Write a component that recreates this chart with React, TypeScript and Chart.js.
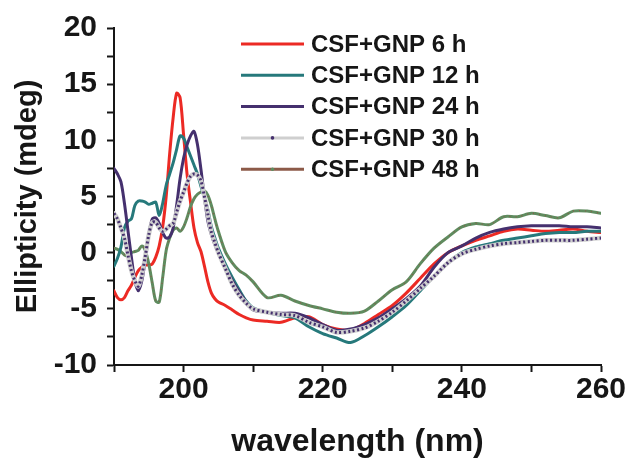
import React, { useEffect, useRef } from 'react';
import { Chart, registerables } from 'chart.js';
Chart.register(...registerables);

const wavelengths = [
  190, 190.5, 191, 191.5, 192, 192.5, 193, 193.5, 194, 194.5, 195, 195.5, 196, 196.5, 197, 197.5,
  198, 198.5, 199, 199.5, 200, 200.5, 201, 201.5, 202, 202.5, 203, 203.5, 204, 204.5, 205,
  206, 207, 208, 209, 210, 212, 214, 216, 218, 220, 222, 224, 226, 228, 230, 232, 234, 236,
  238, 240, 242, 244, 246, 248, 250, 252, 254, 256, 258, 260,
];

const csfGnp6h = [
  -3.4, -4.0, -4.2, -4.0, -3.4, -2.9, -2.2, -1.6, -1.3, -1.1, -1.1, -1.0, -0.4, 0.6, 2.3, 5.0,
  8.8, 12.0, 14.2, 13.8, 10.5, 7.0, 4.5, 2.2, 0.9, 0.1, -1.2, -2.6, -3.6, -4.1, -4.4,
  -4.7, -5.1, -5.5, -5.8, -6.0, -6.1, -6.2, -5.8, -5.7, -6.4, -6.8, -6.9, -6.3, -5.5, -4.7, -3.6, -2.3, -1.0,
  0.0, 0.6, 1.1, 1.5, 1.9, 2.1, 2.0, 1.9, 2.0, 2.1, 1.9, 1.8,
];

const csfGnp12h = [
  -1.2, -0.5, 0.5, 2.2, 2.8, 3.0, 4.2, 4.6, 4.6, 4.5, 4.3, 4.4, 4.5, 3.3, 4.4, 6.0,
  7.0, 8.0, 9.2, 10.4, 10.2, 9.4, 8.6, 7.8, 7.0, 5.9, 4.9, 3.8, 2.3, 1.3, 0.4,
  -1.0, -2.2, -3.3, -4.3, -4.9, -5.3, -5.6, -5.8, -6.6, -7.2, -7.6, -8.0, -7.4, -6.6, -5.7, -4.7, -3.4, -2.1,
  -0.9, 0.0, 0.5, 0.8, 1.1, 1.3, 1.5, 1.7, 1.8, 1.8, 1.9, 1.9,
];

const csfGnp24h = [
  7.5, 7.0, 6.3, 4.4, 2.0, -0.4, -2.5, -3.4, -2.5, -0.6, 1.6, 3.0, 3.1, 2.6, 1.8, 1.3,
  1.4, 2.2, 4.2, 6.6, 8.4, 9.6, 10.4, 10.8, 9.6, 7.4, 4.9, 2.8, 1.6, 0.7, 0.0,
  -1.3, -2.5, -3.5, -4.4, -5.1, -5.3, -5.4, -5.4, -5.8, -6.4, -6.9, -6.8, -6.4, -5.8, -5.0, -4.1, -3.0, -1.3,
  0.0, 0.6, 1.3, 1.8, 2.1, 2.3, 2.4, 2.4, 2.4, 2.3, 2.3, 2.2,
];

const csfGnp30h = [
  3.5, 3.0, 2.2, 1.3, -0.2, -1.6, -2.5, -3.0, -2.0, -0.3, 1.6, 2.7, 2.7, 2.2, 1.9, 2.1,
  2.4, 2.6, 3.6, 4.6, 5.4, 6.2, 6.8, 7.0, 6.9, 6.4, 5.0, 3.4, 1.8, 0.9, 0.0,
  -1.4, -2.8, -3.8, -4.5, -5.0, -5.3, -5.5, -5.6, -6.2, -6.6, -7.1, -7.0, -6.7, -6.1, -5.3, -4.3, -3.2, -2.1,
  -0.9, -0.1, 0.3, 0.6, 0.8, 0.9, 1.0, 1.1, 1.1, 1.1, 1.2, 1.3,
];

const csfGnp48h = [
  0.4, 0.3, 0.1, -0.2, -0.3, 0.0, 0.1, 0.2, 0.6, 0.2, -1.0, -2.7, -4.3, -4.4, -2.2, 0.2,
  1.3, 2.0, 2.2, 1.9, 2.3, 3.1, 4.1, 4.8, 5.2, 5.4, 5.5, 5.1, 4.2, 3.0, 1.9,
  0.1, -0.9, -1.6, -2.0, -2.6, -4.0, -3.8, -4.3, -4.7, -5.0, -5.3, -5.4, -5.2, -4.3, -3.3, -2.6, -1.0, 0.4,
  1.4, 2.3, 2.6, 2.5, 3.2, 3.2, 3.5, 3.3, 3.1, 3.7, 3.7, 3.5,
];

const seriesLabels = ['CSF+GNP 6 h', 'CSF+GNP 12 h', 'CSF+GNP 24 h', 'CSF+GNP 30 h', 'CSF+GNP 48 h'];
const xTickLabels = [200, 220, 240, 260];
const yTickLabels = [20, 15, 10, 5, 0, -5, -10];

const RED = '#ec2a24';
const TEAL = '#26797b';
const PURPLE = '#45306e';
const GRAY = '#cfcfcf';
const GREEN = '#5f8c5f';
const BROWN = '#8c5a48';
const INK = '#161616';
const FONT = '"Liberation Sans", Arial, sans-serif';

const toPoints = (ys: number[]) => wavelengths.map((x, i) => ({ x, y: ys[i] }));

const legendPlugin = {
  id: 'customLegend',
  afterDraw(chart: any) {
    const { ctx, chartArea } = chart;
    const x0 = chartArea.left + 127;
    const y0 = chartArea.top + 16;
    const gap = 31.3;
    const lineLen = 63;
    const styles = [
      { line: RED, dot: null },
      { line: TEAL, dot: null },
      { line: PURPLE, dot: null },
      { line: GRAY, dot: PURPLE },
      { line: BROWN, dot: GREEN },
    ];
    ctx.save();
    styles.forEach((s, i) => {
      const y = y0 + i * gap;
      ctx.beginPath();
      ctx.strokeStyle = s.line;
      ctx.lineWidth = 3;
      ctx.moveTo(x0, y);
      ctx.lineTo(x0 + lineLen, y);
      ctx.stroke();
      if (s.dot) {
        ctx.beginPath();
        ctx.fillStyle = s.dot;
        ctx.arc(x0 + lineLen / 2, y, 1.8, 0, Math.PI * 2);
        ctx.fill();
      }
      ctx.fillStyle = INK;
      ctx.font = `bold 24px ${FONT}`;
      ctx.textBaseline = 'middle';
      ctx.textAlign = 'left';
      ctx.fillText(seriesLabels[i], x0 + 70, y + 1);
    });
    ctx.restore();
  },
};

export default function App() {
  const ref = useRef<HTMLCanvasElement>(null);
  useEffect(() => {
    document.body.style.margin = '0';
    const canvas = ref.current;
    if (!canvas) return;
    const lineBase = { fill: false, pointRadius: 0, tension: 0.3, borderCapStyle: 'round', borderJoinStyle: 'round' };
    const chart = new Chart(canvas, {
      type: 'line',
      data: {
        datasets: [
          { ...lineBase, label: seriesLabels[3] + ' dots', data: toPoints(csfGnp30h), borderColor: PURPLE, borderWidth: 3, borderDash: [2, 2.5], borderCapStyle: 'butt', order: 1 },
          { ...lineBase, label: seriesLabels[3], data: toPoints(csfGnp30h), borderColor: GRAY, borderWidth: 4.5, order: 2 },
          { ...lineBase, label: seriesLabels[2], data: toPoints(csfGnp24h), borderColor: PURPLE, borderWidth: 3, order: 3 },
          { ...lineBase, label: seriesLabels[1], data: toPoints(csfGnp12h), borderColor: TEAL, borderWidth: 3, order: 4 },
          { ...lineBase, label: seriesLabels[4] + ' dots', data: toPoints(csfGnp48h), borderColor: BROWN, borderWidth: 1.2, borderDash: [1, 5], borderCapStyle: 'butt', order: 5 },
          { ...lineBase, label: seriesLabels[4], data: toPoints(csfGnp48h), borderColor: GREEN, borderWidth: 3, order: 6 },
          { ...lineBase, label: seriesLabels[0], data: toPoints(csfGnp6h), borderColor: RED, borderWidth: 3, order: 7 },
        ],
      },
      options: {
        responsive: false,
        animation: false,
        layout: { padding: { left: 0, right: 26, top: 26, bottom: 0 } },
        plugins: { legend: { display: false }, tooltip: { enabled: false } },
        scales: {
          x: {
            type: 'linear',
            min: 190,
            max: 260,
            afterFit: (s: any) => { s.height = 96; },
            afterBuildTicks: (s: any) => {
              const t = [];
              for (let v = 190; v <= 260; v += 10) t.push({ value: v });
              s.ticks = t;
            },
            ticks: {
              autoSkip: false,
              maxRotation: 0,
              padding: 0,
              color: INK,
              font: { family: FONT, size: 30, weight: 'bold' },
              callback: (v: any) => (xTickLabels.includes(Number(v)) ? String(v) : ''),
            },
            grid: { drawOnChartArea: false, drawTicks: true, tickLength: 7, tickWidth: 2, tickColor: INK },
            border: { display: true, color: INK, width: 2 },
            title: {
              display: true,
              text: 'wavelength (nm)',
              color: INK,
              font: { family: FONT, size: 32, weight: 'bold' },
              padding: { top: 3, bottom: 0 },
            },
          },
          y: {
            type: 'linear',
            min: -10,
            max: 20,
            afterFit: (s: any) => { s.width = 114; },
            afterBuildTicks: (s: any) => {
              const t = [];
              for (let v = -10; v <= 20; v += 2.5) t.push({ value: v });
              s.ticks = t;
            },
            ticks: {
              autoSkip: false,
              padding: 10,
              color: INK,
              font: { family: FONT, size: 30, weight: 'bold' },
              callback: (v: any) => (yTickLabels.includes(Number(v)) ? String(v) : ''),
            },
            grid: { drawOnChartArea: false, drawTicks: true, tickLength: 7, tickWidth: 2, tickColor: INK },
            border: { display: true, color: INK, width: 2 },
            title: {
              display: true,
              text: 'Ellipticity (mdeg)',
              color: INK,
              font: { family: FONT, size: 29, weight: 'bold' },
              padding: { top: 11, bottom: 0 },
            },
          },
        },
      },
      plugins: [legendPlugin],
    } as any);
    return () => chart.destroy();
  }, []);
  return <canvas ref={ref} width={627} height={461} style={{ display: 'block' }} />;
}
